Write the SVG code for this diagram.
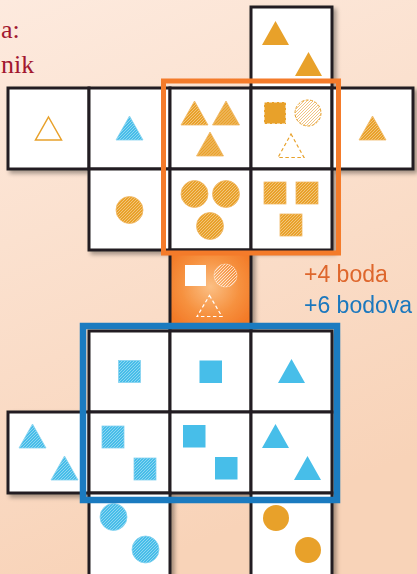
<svg xmlns="http://www.w3.org/2000/svg" width="417" height="574" viewBox="0 0 417 574">
<defs>
<linearGradient id="bg" x1="0" y1="0" x2="0.3" y2="1">
<stop offset="0" stop-color="#fdeade"/>
<stop offset="1" stop-color="#f8d3b8"/>
</linearGradient>
<radialGradient id="og" cx="0.5" cy="0.45" r="0.6">
<stop offset="0" stop-color="#fbbf84"/>
<stop offset="0.6" stop-color="#f6913f"/>
<stop offset="1" stop-color="#f37a27"/>
</radialGradient>
<pattern id="hO" width="3" height="3" patternUnits="userSpaceOnUse">
<rect width="3" height="3" fill="#e9a12b"/>
<path d="M0,3 L3,0 M-1,1 L1,-1 M2,4 L4,2" stroke="#fff" stroke-width="0.7" stroke-opacity="0.55"/>
</pattern>
<pattern id="hB" width="3" height="3" patternUnits="userSpaceOnUse">
<rect width="3" height="3" fill="#47bde9"/>
<path d="M0,3 L3,0 M-1,1 L1,-1 M2,4 L4,2" stroke="#fff" stroke-width="0.7" stroke-opacity="0.55"/>
</pattern>
<pattern id="hP" width="3" height="3" patternUnits="userSpaceOnUse">
<rect width="3" height="3" fill="#fff"/>
<path d="M0,3 L3,0 M-1,1 L1,-1 M2,4 L4,2" stroke="#eeb565" stroke-width="0.8"/>
</pattern>
<pattern id="hW" width="3" height="3" patternUnits="userSpaceOnUse">
<path d="M0,3 L3,0 M-1,1 L1,-1 M2,4 L4,2" stroke="#fff" stroke-width="0.8" stroke-opacity="0.85"/>
</pattern>
<filter id="sh" x="-10%" y="-10%" width="130%" height="130%">
<feDropShadow dx="3" dy="3" stdDeviation="2" flood-color="#000" flood-opacity="0.35"/>
</filter>
<path id="tri" d="M13.5,0 L27,24 L0,24 Z"/>
</defs>
<style>
.cell{fill:#fff;stroke:#231f20;stroke-width:3}
.o{fill:#e8a12a}
.oh{fill:url(#hO);stroke:#f0b864;stroke-width:0.8}
.b{fill:#46bee9}
.bh{fill:url(#hB);stroke:#86d3f0;stroke-width:0.8}
.lbl{font-family:"Liberation Sans",Arial,sans-serif;font-size:23px}
.ttl{font-family:"Liberation Serif","DejaVu Serif",serif;font-size:26px;fill:#a2172f}
</style>
<rect width="417" height="574" fill="url(#bg)"/>
<text class="ttl" x="1" y="38">a:</text>
<text class="ttl" x="1" y="73">nik</text>
<g id="cells" filter="url(#sh)">
<g id="r0c3" transform="translate(251,7)"><rect class="cell" width="81" height="81"/><use href="#tri" class="o" x="11" y="14"/><use href="#tri" class="o" x="44" y="45"/></g>
<g id="r1c0" transform="translate(8,88)"><rect class="cell" width="81" height="81"/><path d="M40.5,29 L53.5,52 L27.5,52 Z" fill="none" stroke="#e8a12a" stroke-width="1.5"/></g>
<g id="r1c1" transform="translate(89,88)"><rect class="cell" width="81" height="81"/><use href="#tri" class="bh" x="27" y="28"/></g>
<g id="r1c2" transform="translate(170,88)"><rect class="cell" width="81" height="81"/><use href="#tri" class="oh" x="11" y="13"/><use href="#tri" class="oh" x="42.5" y="13"/><use href="#tri" class="oh" x="26.5" y="44"/></g>
<g id="r1c3" transform="translate(251,88)"><rect class="cell" width="81" height="81"/><rect x="13" y="14" width="22" height="22" fill="#e8a12a" stroke="#fff" stroke-width="1" stroke-dasharray="3 2"/><circle cx="57" cy="25" r="13" fill="url(#hP)" stroke="#e8a12a" stroke-width="1" stroke-dasharray="3 1.5"/><path d="M40,46 L53,69.5 L27,69.5 Z" fill="none" stroke="#e8a12a" stroke-width="1.2" stroke-dasharray="3.5 2.5"/></g>
<g id="r1c4" transform="translate(332,88)"><rect class="cell" width="81" height="81"/><use href="#tri" class="oh" x="27" y="28"/></g>
<g id="r2c1" transform="translate(89,169)"><rect class="cell" width="81" height="81"/><circle class="oh" cx="40.5" cy="41" r="13.5"/></g>
<g id="r2c2" transform="translate(170,169)"><rect class="cell" width="81" height="81"/><circle class="oh" cx="24.5" cy="25" r="13.5"/><circle class="oh" cx="56" cy="25" r="13.5"/><circle class="oh" cx="40" cy="57" r="13.5"/></g>
<g id="r2c3" transform="translate(251,169)"><rect class="cell" width="81" height="81"/><rect class="oh" x="13" y="13" width="22" height="22"/><rect class="oh" x="45" y="13" width="22" height="22"/><rect class="oh" x="29" y="45" width="22" height="22"/></g>
<g id="r3c2" transform="translate(170,250)"><rect class="cell" width="81" height="81" style="fill:url(#og)"/><rect x="15" y="15" width="21" height="21" fill="#fff"/><circle cx="55.5" cy="25.5" r="11.5" fill="url(#hW)" stroke="#fff" stroke-opacity="0.6" stroke-width="0.6"/><path d="M39.5,45.5 L52,66.5 L27,66.5 Z" fill="none" stroke="#fff" stroke-width="1.2" stroke-dasharray="3.5 2.5"/></g>
<g id="r4c1" transform="translate(89,331)"><rect class="cell" width="81" height="81"/><rect class="bh" x="29.5" y="29.5" width="22" height="22"/></g>
<g id="r4c2" transform="translate(170,331)"><rect class="cell" width="81" height="81"/><rect class="b" x="29.5" y="29.5" width="22.5" height="22.5"/></g>
<g id="r4c3" transform="translate(251,331)"><rect class="cell" width="81" height="81"/><use href="#tri" class="b" x="27" y="28"/></g>
<g id="r5c0" transform="translate(8,412)"><rect class="cell" width="81" height="81"/><use href="#tri" class="bh" x="11" y="12"/><use href="#tri" class="bh" x="43" y="44"/></g>
<g id="r5c1" transform="translate(89,412)"><rect class="cell" width="81" height="81"/><rect class="bh" x="13" y="14" width="22" height="22"/><rect class="bh" x="45" y="46" width="22" height="22"/></g>
<g id="r5c2" transform="translate(170,412)"><rect class="cell" width="81" height="81"/><rect class="b" x="13" y="13" width="22.5" height="22.5"/><rect class="b" x="45" y="45" width="22.5" height="22.5"/></g>
<g id="r5c3" transform="translate(251,412)"><rect class="cell" width="81" height="81"/><use href="#tri" class="b" x="11" y="12"/><use href="#tri" class="b" x="43" y="44"/></g>
<g id="r6c1" transform="translate(89,493)"><rect class="cell" width="81" height="83"/><circle class="bh" cx="24.5" cy="24" r="13.5"/><circle class="bh" cx="56.5" cy="56.5" r="13.5"/></g>
<g id="r6c3" transform="translate(251,493)"><rect class="cell" width="81" height="83"/><circle class="o" cx="25" cy="25" r="13"/><circle class="o" cx="57" cy="57" r="13"/></g>
</g>
<g id="connectors"/>
<g id="highlights" fill="none">
<rect id="orangeBox" x="163.5" y="81" width="175" height="172" stroke="#f47b2a" stroke-width="5"/>
<rect id="blueBox" x="83" y="326" width="254" height="174" stroke="#1b7bc0" stroke-width="6.5"/>
</g>
<text class="lbl" x="304" y="282" fill="#de662c">+4 boda</text>
<text class="lbl" x="304" y="313" fill="#1b78be">+6 bodova</text>
</svg>
